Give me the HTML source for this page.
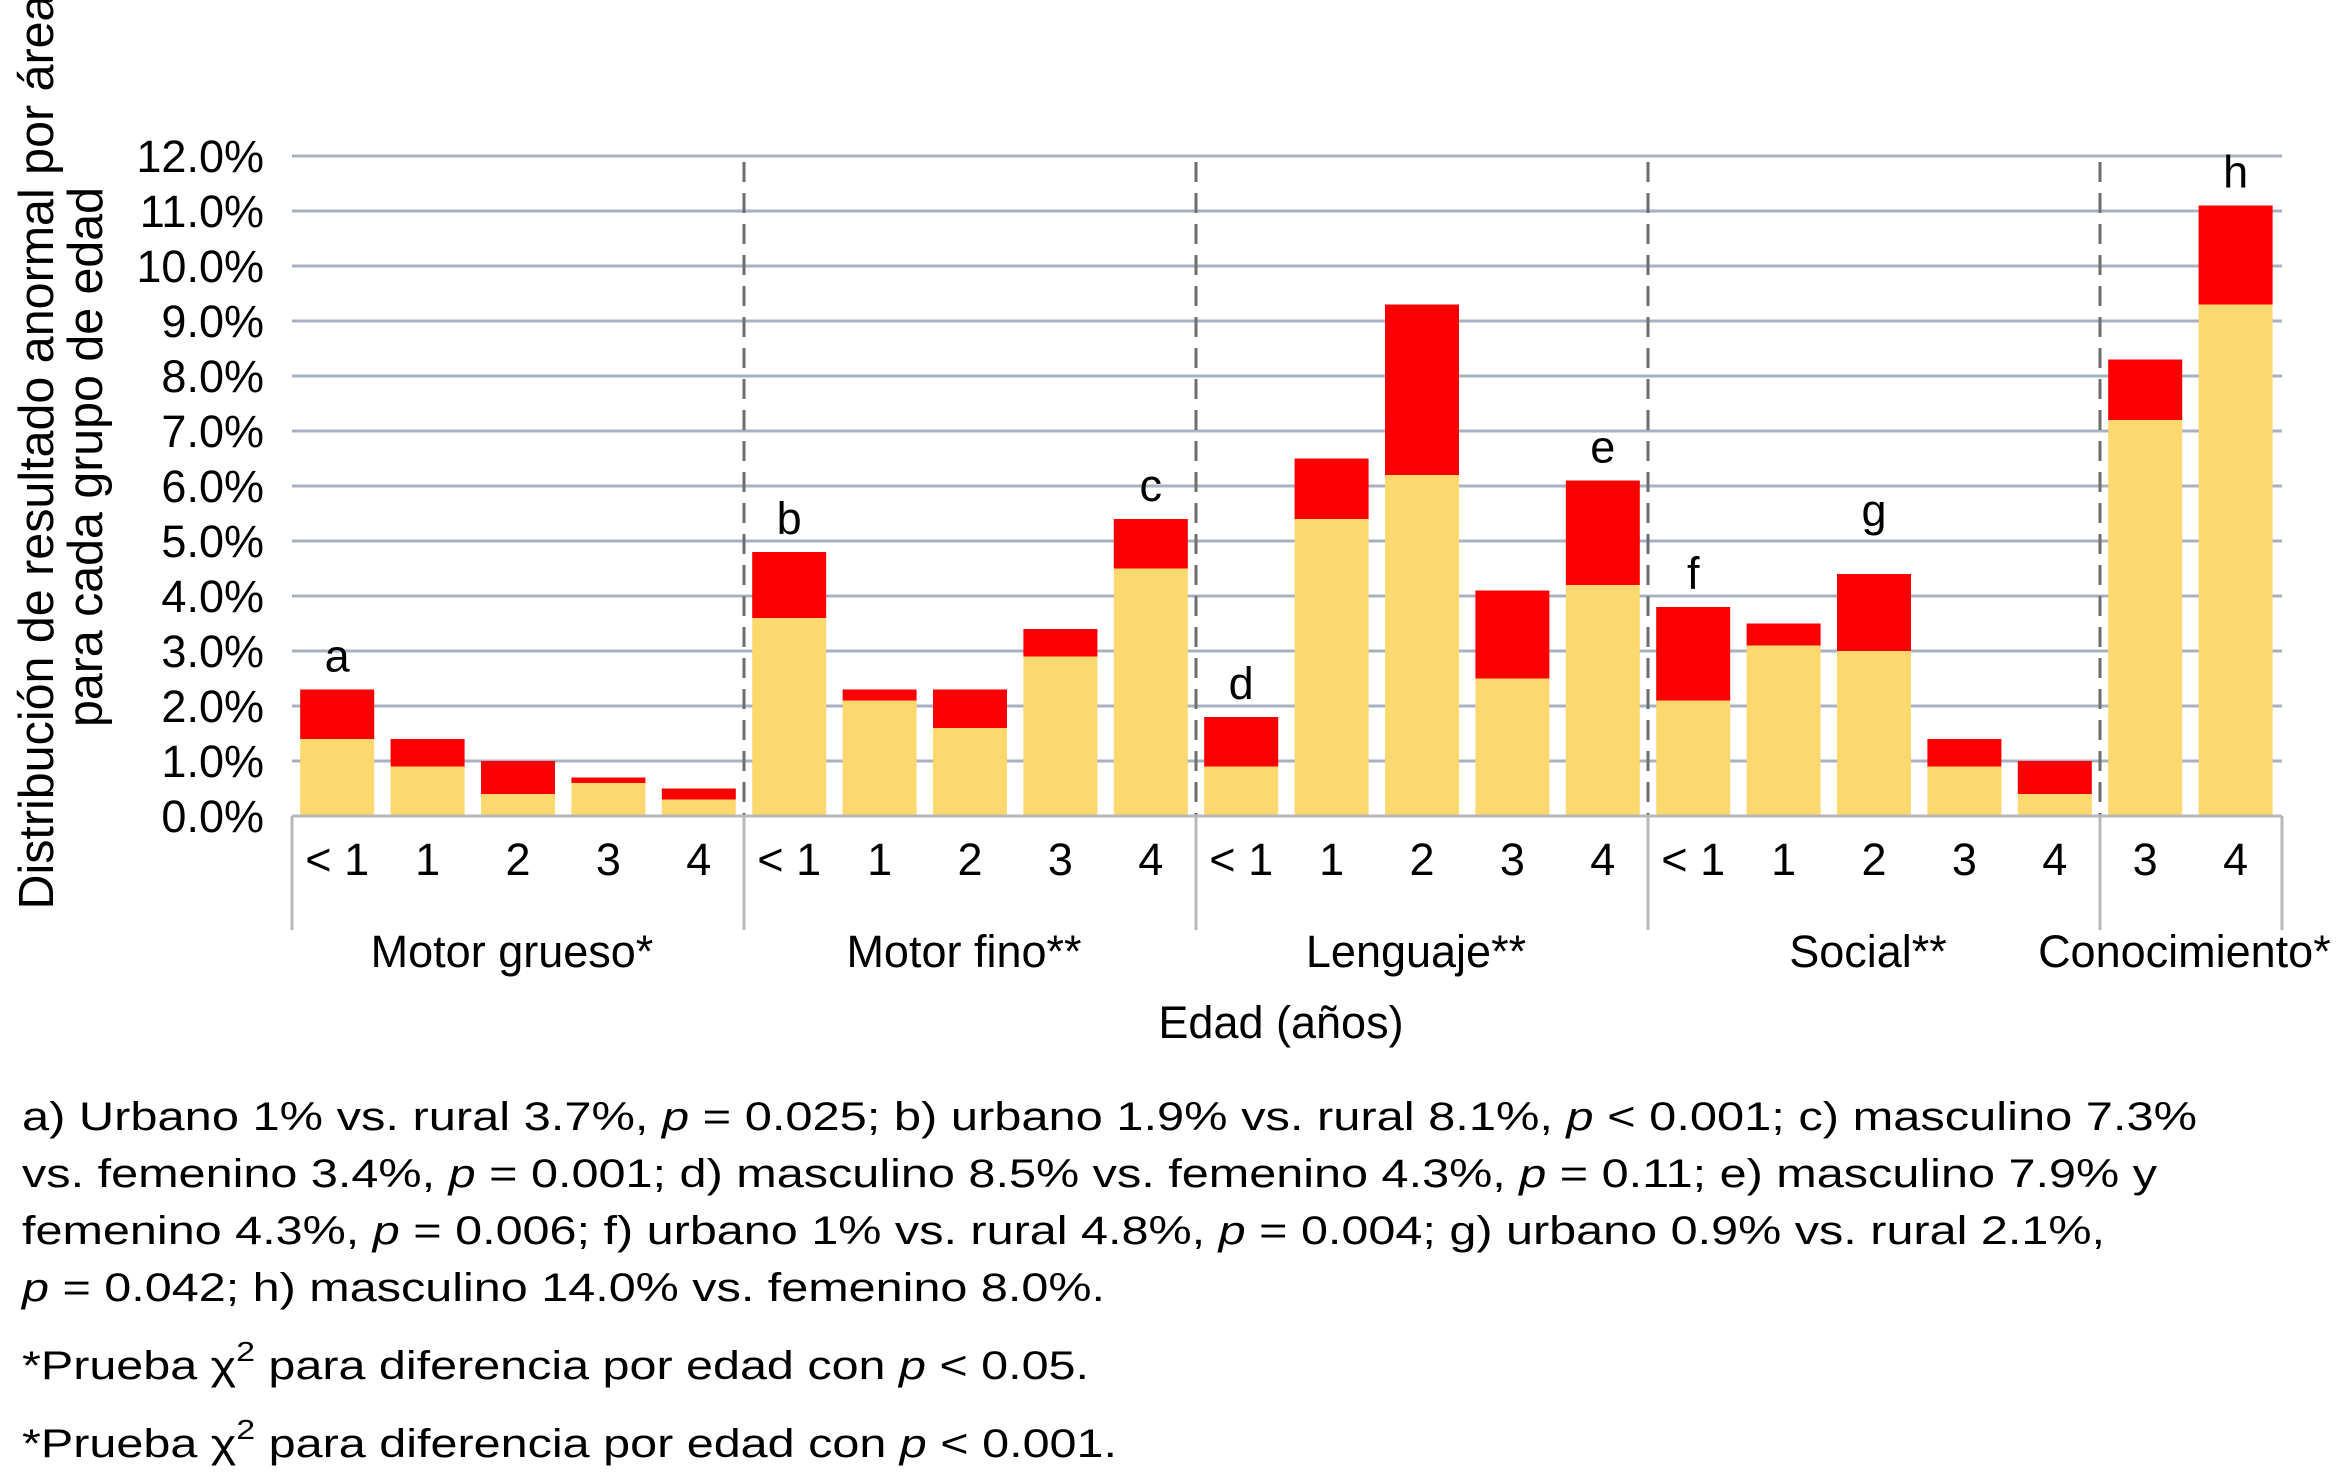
<!DOCTYPE html>
<html><head><meta charset="utf-8"><style>
html,body{margin:0;padding:0;background:#fff;}
svg{display:block;font-family:"Liberation Sans",Arial,sans-serif;}
</style></head><body>
<svg id="chart" width="2349" height="1483" viewBox="0 0 2349 1483" xmlns="http://www.w3.org/2000/svg">
<g id="grid"></g>
<g id="bars"></g>
<g id="axes"></g>
<g id="labels"></g>
<g font-size="49" fill="#000">
  <text transform="translate(53,452) rotate(-90)" text-anchor="middle" textLength="915" lengthAdjust="spacingAndGlyphs">Distribución de resultado anormal por área</text>
  <text transform="translate(102,457) rotate(-90)" text-anchor="middle" textLength="540" lengthAdjust="spacingAndGlyphs">para cada grupo de edad</text>
</g>
<text x="1281" y="1038" font-size="45" text-anchor="middle">Edad (años)</text>
<g font-size="40" fill="#000">
  <text x="22" y="1130" textLength="2175" lengthAdjust="spacingAndGlyphs">a) Urbano 1% vs. rural 3.7%, <tspan font-style="italic">p</tspan> = 0.025; b) urbano 1.9% vs. rural 8.1%,  <tspan font-style="italic">p</tspan> &lt; 0.001; c) masculino 7.3%</text>
  <text x="22" y="1187" textLength="2135" lengthAdjust="spacingAndGlyphs">vs. femenino 3.4%, <tspan font-style="italic">p</tspan> = 0.001; d) masculino 8.5% vs. femenino 4.3%, <tspan font-style="italic">p</tspan> = 0.11; e) masculino 7.9% y</text>
  <text x="22" y="1244" textLength="2083" lengthAdjust="spacingAndGlyphs">femenino 4.3%, <tspan font-style="italic">p</tspan> = 0.006; f) urbano 1% vs. rural 4.8%, <tspan font-style="italic">p</tspan> = 0.004; g) urbano 0.9% vs. rural 2.1%,</text>
  <text x="22" y="1301" textLength="1083" lengthAdjust="spacingAndGlyphs"><tspan font-style="italic">p</tspan> = 0.042; h) masculino 14.0% vs. femenino 8.0%.</text>
  <text x="22" y="1379" textLength="1067" lengthAdjust="spacingAndGlyphs">*Prueba χ<tspan dy="-18" font-size="28">2</tspan><tspan dy="18"> para diferencia por edad con </tspan><tspan font-style="italic">p</tspan> &lt; 0.05.</text>
  <text x="22" y="1457" textLength="1095" lengthAdjust="spacingAndGlyphs">*Prueba χ<tspan dy="-18" font-size="28">2</tspan><tspan dy="18"> para diferencia por edad con </tspan><tspan font-style="italic">p</tspan> &lt; 0.001.</text>
</g>
</svg>
<script>
const groups = ["Motor grueso*", "Motor fino**", "Lenguaje**", "Social**", "Conocimiento*"];
const categories = [
  ["< 1","1","2","3","4"],
  ["< 1","1","2","3","4"],
  ["< 1","1","2","3","4"],
  ["< 1","1","2","3","4"],
  ["3","4"]
];
const yellowValues = [
  [1.4,0.9,0.4,0.6,0.3],
  [3.6,2.1,1.6,2.9,4.5],
  [0.9,5.4,6.2,2.5,4.2],
  [2.1,3.1,3.0,0.9,0.4],
  [7.2,9.3]
];
const redValues = [
  [0.9,0.5,0.6,0.1,0.2],
  [1.2,0.2,0.7,0.5,0.9],
  [0.9,1.1,3.1,1.6,1.9],
  [1.7,0.4,1.4,0.5,0.6],
  [1.1,1.8]
];
const annotations = [
  {g:0,i:0,t:"a"},{g:1,i:0,t:"b"},{g:1,i:4,t:"c"},{g:2,i:0,t:"d"},
  {g:2,i:4,t:"e"},{g:3,i:0,t:"f"},{g:3,i:2,t:"g",extra:30},{g:4,i:1,t:"h"}
];
const yTicks = [0,1,2,3,4,5,6,7,8,9,10,11,12];

const NS="http://www.w3.org/2000/svg";
const X0=292, X1=2282, Y0=816, Ytop=156, SLOT=90.4, BW=74;
const y = v => Y0 - (v/12)*(Y0-Ytop);
const groupStart = g => X0 + g*SLOT*5;
const xCenter = (g,i) => groupStart(g) + (i+0.5)*SLOT;
function mk(tag, attrs, parent){const e=document.createElementNS(NS,tag);for(const k in attrs)e.setAttribute(k,attrs[k]);parent.appendChild(e);return e;}
const grid=document.getElementById('grid'), bars=document.getElementById('bars'), axes=document.getElementById('axes'), labels=document.getElementById('labels');

yTicks.forEach(t=>{
  const l=mk('line',{x1:X0,x2:X1,y1:y(t),y2:y(t),stroke:'#a9b1c1','stroke-width':3},grid);
  
  
  const tx=mk('text',{x:264,y:y(t)+16,'font-size':45,'text-anchor':'end'},labels);
  tx.textContent=t.toFixed(1)+'%';
  
  
});

categories.forEach((cats,g)=>{
  cats.forEach((c,i)=>{
    const cx=xCenter(g,i), yv=yellowValues[g][i], rv=redValues[g][i];
    const r1=mk('rect',{x:cx-BW/2,y:y(yv),width:BW,height:Y0-y(yv),fill:'#fdd86f'},bars);
    
    
    const r2=mk('rect',{x:cx-BW/2,y:y(yv+rv),width:BW,height:y(yv)-y(yv+rv),fill:'#fa0000'},bars);
    
    
    const tl=mk('text',{x:cx,y:875,'font-size':45,'text-anchor':'middle'},labels);
    tl.textContent=c;
    
    
  });
  const gs=groupStart(g), ge=gs+cats.length*SLOT;
  const gl=mk('text',{x:(gs+ge)/2-6,y:967,'font-size':45,'text-anchor':'middle'},labels);
  gl.textContent=groups[g];
  
  
  if(g>0){
    const d=mk('line',{x1:gs,x2:gs,y1:162,y2:816,stroke:'#6e6e6e','stroke-width':3,'stroke-dasharray':'20,11'},axes);
    
    
  }
  const v=mk('line',{x1:gs,x2:gs,y1:Y0,y2:930,stroke:'#b8b8b8','stroke-width':3},axes);
  
  
});
const vEnd=mk('line',{x1:X1,x2:X1,y1:Y0,y2:930,stroke:'#b8b8b8','stroke-width':3},axes);


const base=mk('line',{x1:X0,x2:X1,y1:Y0,y2:Y0,stroke:'#b8b8b8','stroke-width':3},axes);



annotations.forEach(a=>{
  const tot=yellowValues[a.g][a.i]+redValues[a.g][a.i];
  const t=mk('text',{x:xCenter(a.g,a.i),y:y(tot)-18-(a.extra||0),'font-size':45,'text-anchor':'middle'},labels);
  t.textContent=a.t;
  
  
});
</script>
</body></html>
